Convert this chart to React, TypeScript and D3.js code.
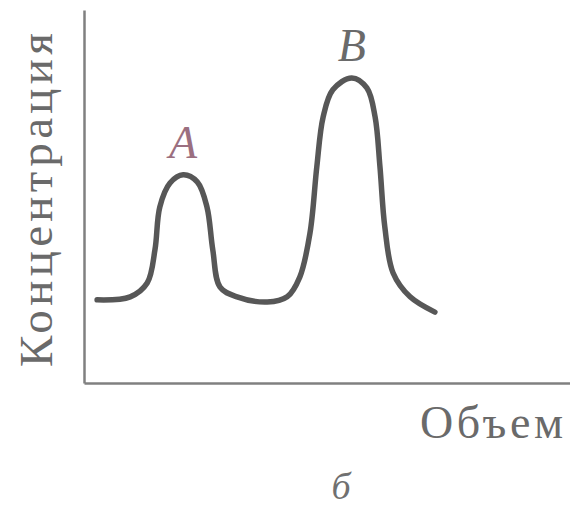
import React, { useEffect, useRef } from 'react';
import * as d3 from 'd3';

// chromatogram (arbitrary units, 0..100 on both axes)
const volume = [2.7, 9.5, 13.0, 14.6, 15.6, 17.7, 20.4, 23.3, 25.3, 26.5, 28.0, 31.5, 37.7, 41.8, 44.4, 46.5, 47.9, 49.2, 51.2, 55.1, 58.2, 59.9, 60.9, 61.9, 63.6, 67.1, 72.2];
const concentration = [22.3, 23.1, 26.8, 35.7, 47.2, 53.6, 55.8, 53.9, 47.2, 35.7, 25.7, 23.1, 21.7, 23.1, 28.4, 40.2, 57.9, 71.3, 78.6, 81.8, 79.1, 71.3, 57.9, 41.8, 29.5, 23.1, 19.0];

const peakNames = ['A', 'B'];
const peakIndex = [6, 19];
const peakColors = ['#9b6f80', '#6a6a6a'];

const xTitle = 'Объем';
const yTitle = 'Концентрация';
const caption = 'б';

export default function App() {
    const ref = useRef<SVGSVGElement>(null);

    useEffect(() => {
        const svgWidth = 570, svgHeight = 508;
        const pad = { top: 10, right: 0, bottom: 125, left: 84 };

        const svg = d3.select(ref.current);
        svg.selectAll('*').remove();
        svg.attr('width', svgWidth).attr('height', svgHeight);

        const width = svgWidth - pad.left - pad.right;
        const height = svgHeight - pad.top - pad.bottom;

        const graph = svg.append('g')
            .attr('transform', 'translate(' + pad.left + ',' + pad.top + ')');

        const x = d3.scaleLinear().domain([0, 100]).range([0, width]);
        const y = d3.scaleLinear().domain([0, 100]).range([height, 0]);

        const data = volume.map((v, i) => ({ v: v, c: concentration[i] }));

        // axes without ticks
        const xAxis = graph.append('g')
            .attr('transform', 'translate(0,' + height + ')')
            .call(d3.axisBottom(x).ticks(0).tickSizeOuter(0));
        const yAxis = graph.append('g')
            .call(d3.axisLeft(y).ticks(0).tickSizeOuter(0));
        [xAxis, yAxis].forEach(a => {
            a.select('.domain').attr('stroke', '#808080').attr('stroke-width', 2.5);
        });

        const line = d3.line<{ v: number, c: number }>()
            .x(d => x(d.v))
            .y(d => y(d.c))
            .curve(d3.curveCatmullRom.alpha(0.5));

        graph.append('path')
            .datum(data)
            .attr('fill', 'none')
            .attr('stroke', '#575757')
            .attr('stroke-width', 5.5)
            .attr('stroke-linecap', 'round')
            .attr('d', line);

        // peak labels
        peakNames.forEach((name, i) => {
            const d = data[peakIndex[i]];
            graph.append('text')
                .attr('x', x(d.v))
                .attr('y', y(d.c) - 17)
                .attr('text-anchor', 'middle')
                .attr('font-family', 'Liberation Serif, serif')
                .attr('font-style', 'italic')
                .attr('font-size', 46)
                .attr('fill', peakColors[i])
                .text(name);
        });

        // axis titles
        svg.append('text')
            .attr('x', 563)
            .attr('y', 438)
            .attr('text-anchor', 'end')
            .attr('font-family', 'Liberation Serif, serif')
            .attr('font-size', 46)
            .attr('fill', '#6a6a6a')
            .attr('textLength', 143)
            .attr('lengthAdjust', 'spacing')
            .text(xTitle);

        svg.append('text')
            .attr('transform', 'translate(52,367) rotate(-90)')
            .attr('font-family', 'Liberation Serif, serif')
            .attr('font-size', 47)
            .attr('fill', '#6a6a6a')
            .attr('textLength', 334)
            .attr('lengthAdjust', 'spacing')
            .text(yTitle);

        svg.append('text')
            .attr('x', 341)
            .attr('y', 499)
            .attr('text-anchor', 'middle')
            .attr('font-family', 'Liberation Serif, serif')
            .attr('font-style', 'italic')
            .attr('font-size', 38)
            .attr('fill', '#707070')
            .text(caption);
    }, []);

    return (
        <div style={{ position: 'absolute', left: 0, top: 0, background: '#fff' }}>
            <svg ref={ref}></svg>
        </div>
    );
}
